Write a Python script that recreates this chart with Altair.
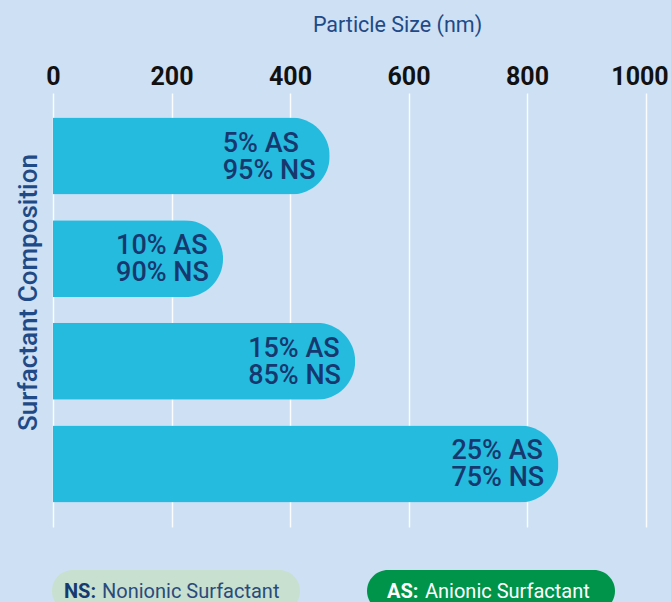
import altair as alt
import pandas as pd

# ---- data ----
AS_PCT = [5, 10, 15, 25]
NS_PCT = [95, 90, 85, 75]
PARTICLE_SIZE = [467, 287, 510, 853]
X_TICKS = [0, 200, 400, 600, 800, 1000]
LEGEND_ABBR = ["NS:", "AS:"]
LEGEND_NAME = ["Nonionic Surfactant", "Anionic Surfactant"]

labels = [f"{a}% AS\n{n}% NS" for a, n in zip(AS_PCT, NS_PCT)]
df = pd.DataFrame({"comp": labels, "size": PARTICLE_SIZE})

NAVY = "#17386e"
TITLE_BLUE = "#1f4a86"
BAR = "#25bbdf"

x_enc = alt.X(
    "size:Q",
    scale=alt.Scale(domain=[0, 1000], nice=False),
    axis=alt.Axis(
        orient="top",
        values=X_TICKS,
        format="d",
        title="Particle Size (nm)",
        titleFont="Roboto",
        titleFontSize=21.5,
        titleFontWeight="normal",
        titleColor=TITLE_BLUE,
        titleX=344,
        titleY=-68,
        titleAlign="center",
        titleBaseline="middle",
        labelFont="Roboto",
        labelFontSize=25,
        labelFontWeight="bold",
        labelColor="#111111",
        labelPadding=9,
        labelBaseline="alphabetic",
        labelFlush=False,
        labelOffset={"condition": {"test": "datum.value == 1000", "value": -6}, "value": 0},
        ticks=False,
        domain=False,
        grid=True,
        gridColor="white",
        gridWidth=1.5,
        gridOpacity=0.9,
    ),
)
y_enc = alt.Y(
    "comp:N",
    sort=labels,
    scale=alt.Scale(paddingInner=0.25, paddingOuter=0.24),
    axis=alt.Axis(
        title="Surfactant Composition",
        labels=False,
        ticks=False,
        domain=False,
        grid=False,
        titleFont="Roboto",
        titleFontSize=26,
        titleFontWeight=500,
        titleColor=TITLE_BLUE,
        titleAngle=-90,
        titleX=-25,
        titleY=199,
        titleAlign="center",
        titleBaseline="middle",
    ),
)

bars = alt.Chart(df).mark_bar(color=BAR, cornerRadiusEnd=38.5).encode(x=x_enc, y=y_enc)

texts = alt.Chart(df).mark_text(
    align="left",
    baseline="middle",
    dx=-107,
    dy=-12.5,
    font="Roboto",
    fontSize=27,
    fontWeight=500,
    lineBreak="\n",
    lineHeight=27,
    color=NAVY,
).encode(x="size:Q", y=alt.Y("comp:N", sort=labels), text="comp:N")


def pill(x0, x1, fill):
    return alt.Chart(pd.DataFrame({"k": [0]})).mark_rect(
        fill=fill, cornerRadius=21
    ).encode(x=alt.value(x0), x2=alt.value(x1), y=alt.value(477), y2=alt.value(519))


def legend_text(i, x, weight, color):
    txt = LEGEND_ABBR[i] if weight == "bold" else LEGEND_NAME[i]
    return alt.Chart(pd.DataFrame({"k": [0]})).mark_text(
        align="left", baseline="middle", font="Roboto", fontSize=20,
        fontWeight=weight, color=color,
    ).encode(x=alt.value(x), y=alt.value(499), text=alt.value(txt))


chart = alt.layer(
    bars,
    texts,
    pill(-1, 247, "#c8e0cf"),
    pill(314, 562, "#00944a"),
    legend_text(0, 11, "bold", "#163a70"),
    legend_text(0, 49, "normal", "#2a4a7c"),
    legend_text(1, 334, "bold", "white"),
    legend_text(1, 372, "normal", "white"),
).properties(
    width=592.5,
    height=434,
    autosize=alt.AutoSizeParams(type="none"),
    padding={"left": 53, "top": 93, "right": 25.5, "bottom": 75},
    background="#cde0f4",
).configure_view(stroke=None)

chart.save("out.html", embed_options={"renderer": "svg", "actions": False})
